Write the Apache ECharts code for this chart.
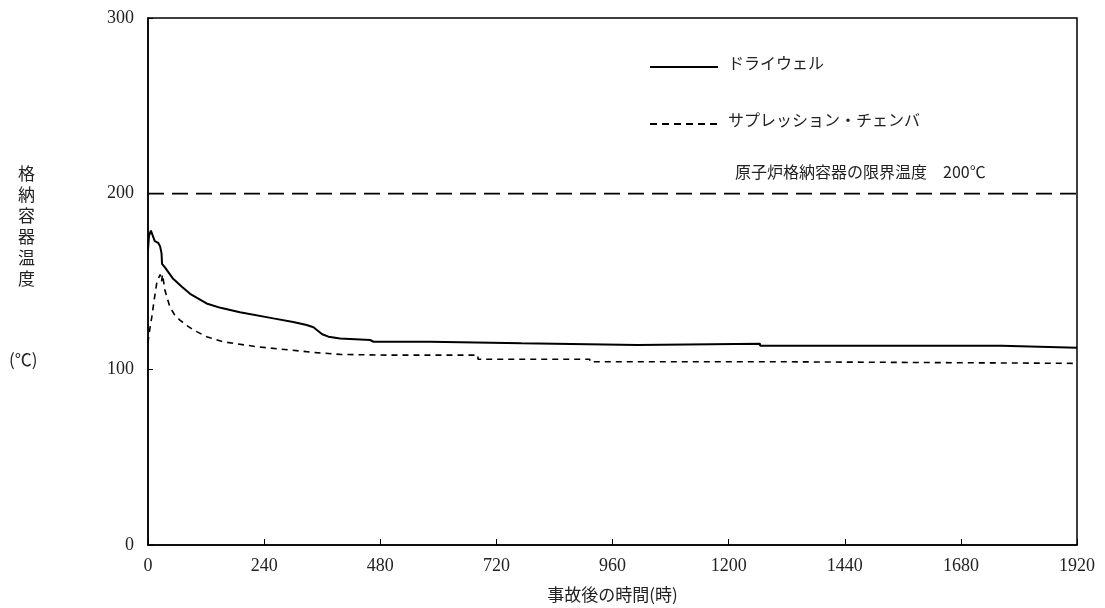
<!DOCTYPE html>
<html>
<head>
<meta charset="utf-8">
<script src="https://cdn.jsdelivr.net/npm/echarts@6/dist/echarts.min.js"></script>
<style>
  html, body { margin: 0; padding: 0; background: #fff; }
  #chart { width: 1105px; height: 608px; }
</style>
</head>
<body>
<div id="chart"></div>
<script>
// 横軸目盛 (時)
var xTicks = [0, 240, 480, 720, 960, 1200, 1440, 1680, 1920];
var yTicks = [0, 100, 200, 300];
// ドライウェル温度 [時間, ℃]
var drywell = [
  [0, 168], [2, 176], [6, 179], [9, 178], [14, 173], [21, 172], [25, 170], [28, 166],
  [29, 160], [35, 158], [52, 151.5], [70, 147], [87, 143], [121, 137.5], [150, 135],
  [190, 132.5], [259, 129], [300, 127], [328, 125.2], [342, 124], [360, 120],
  [373, 118.6], [397, 117.5], [459, 116.7], [466, 115.7], [583, 115.7], [583, 114.8],
  [772, 114.8], [772, 113.8], [1012, 113.8], [1012, 114.6], [1265, 114.6],
  [1265, 113.4], [1764, 113.4], [1764, 112.3], [1920, 112.3]
];
// サプレッション・チェンバ温度 [時間, ℃]
var suppression = [
  [0, 115], [2, 120], [5, 125], [8, 130], [13, 140], [18, 149], [22, 152], [25, 154],
  [28, 150], [30, 154], [35, 145], [45, 135.6], [55, 131], [66, 128], [80, 125],
  [94, 122.4], [121, 118.6], [155, 115.7], [224, 112.9], [293, 111], [348, 109.5],
  [397, 108.5], [493, 108.1], [682, 108.1], [682, 105.7], [913, 105.7], [913, 104.3],
  [1320, 104.3], [1320, 103.4], [1920, 103.4]
];
// 限界温度
var limitLine = [[0, 200], [1920, 200]];

var jp = '"Noto Sans CJK JP", sans-serif';
var num = '"Liberation Serif", serif';

var chart = echarts.init(document.getElementById('chart'));
chart.setOption({
  animation: false,
  backgroundColor: '#fff',
  grid: {
    left: 148, right: 28, top: 18, bottom: 63,
    show: true, borderColor: '#000', borderWidth: 1.5
  },
  xAxis: {
    type: 'value',
    min: xTicks[0], max: xTicks[xTicks.length - 1], interval: 240,
    name: '事故後の時間(時)',
    nameLocation: 'middle', nameGap: 41,
    nameTextStyle: { fontFamily: jp, fontSize: 17, color: '#222' },
    axisLine: { lineStyle: { color: '#000', width: 1.5 } },
    axisTick: { inside: true, length: 6, lineStyle: { color: '#000' } },
    axisLabel: {
      fontFamily: num, fontSize: 18, color: '#222', margin: 12,
      formatter: function (v) { return String(v); }
    },
    splitLine: { show: false }
  },
  yAxis: {
    type: 'value',
    min: yTicks[0], max: yTicks[yTicks.length - 1], interval: 100,
    axisLine: { show: true, lineStyle: { color: '#000', width: 1.5 } },
    axisTick: { show: true, inside: true, length: 5, lineStyle: { color: '#000' } },
    axisLabel: {
      fontFamily: num, fontSize: 18, color: '#222', margin: 14,
      formatter: function (v) { return String(v); }
    },
    splitLine: { show: false }
  },
  series: [
    {
      name: 'ドライウェル', type: 'line', data: drywell, showSymbol: false,
      lineStyle: { color: '#000', width: 2 }
    },
    {
      name: 'サプレッション・チェンバ', type: 'line', data: suppression, showSymbol: false,
      lineStyle: { color: '#000', width: 1.6, type: [6, 5] }
    },
    {
      name: '限界温度', type: 'line', data: limitLine, showSymbol: false,
      lineStyle: { color: '#000', width: 1.6, type: [16, 8] }
    }
  ],
  graphic: [
    { type: 'line', shape: { x1: 650, y1: 67, x2: 718, y2: 67 }, style: { stroke: '#000', lineWidth: 2 } },
    { type: 'text', left: 728, top: 55, style: { text: 'ドライウェル', font: '16px ' + jp, fill: '#222' } },
    { type: 'line', shape: { x1: 650, y1: 124, x2: 718, y2: 124 }, style: { stroke: '#000', lineWidth: 2, lineDash: [7, 5] } },
    { type: 'text', left: 728, top: 112, style: { text: 'サプレッション・チェンバ', font: '16px ' + jp, fill: '#222' } },
    { type: 'text', left: 735, top: 164, style: { text: '原子炉格納容器の限界温度　200℃', font: '16px ' + jp, fill: '#222' } },
    { type: 'text', left: 18, top: 163, style: { text: '格\n納\n容\n器\n温\n度', font: '17px ' + jp, fill: '#222', lineHeight: 21 } },
    { type: 'text', left: 9, top: 351, style: { text: '(℃)', font: '17px ' + jp, fill: '#222' } }
  ]
});
</script>
</body>
</html>
